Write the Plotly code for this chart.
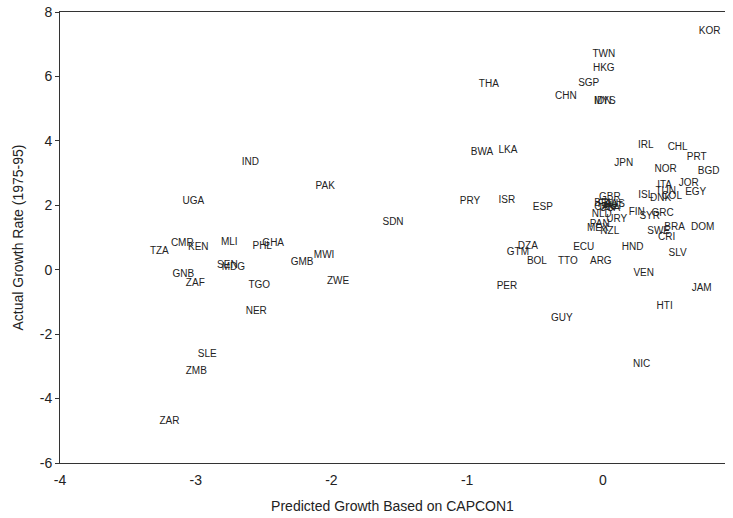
import plotly.graph_objects as go

countries = ["KOR","TWN","HKG","SGP","CHN","IDN","MYS","THA","IRL","CHL","PRT","BGD","JPN","NOR",
             "JOR","EGY","ITA","TUN","ISL","DNK","COL","GBR","BEL","FRA","AUS","CAN","USA","AUT",
             "NLD","URY","FIN","SYR","GRC","PAN","MEX","NZL","SWE","BRA","CRI","DOM","SLV","HND",
             "ECU","TTO","ARG","VEN","JAM","HTI","NIC","GUY","PER","BOL","DZA","GTM","ESP","ISR",
             "PRY","BWA","LKA","SDN","IND","PAK","UGA","TZA","CMR","KEN","MLI","PHL","GHA","MWI",
             "GMB","SEN","MDG","GNB","ZAF","TGO","NER","ZWE","SLE","ZMB","ZAR"]
predicted = [0.787,0.007,0.007,-0.104,-0.273,0.0,0.014,-0.840,0.316,0.551,0.691,0.779,0.154,0.463,
             0.632,0.684,0.455,0.463,0.316,0.426,0.507,0.051,0.007,0.036,0.087,0.014,0.051,0.073,
             -0.008,0.102,0.250,0.345,0.441,-0.023,-0.037,0.051,0.411,0.529,0.470,0.735,0.551,0.220,
             -0.141,-0.258,-0.015,0.301,0.728,0.455,0.286,-0.302,-0.707,-0.486,-0.553,-0.626,-0.442,-0.707,
             -0.979,-0.891,-0.700,-1.546,-2.598,-2.046,-3.018,-3.268,-3.099,-2.981,-2.753,-2.510,-2.429,-2.054,
             -2.216,-2.767,-2.723,-3.091,-3.003,-2.532,-2.554,-1.951,-2.915,-2.996,-3.194]
actual = [7.39,6.68,6.24,5.78,5.37,5.22,5.22,5.75,3.85,3.79,3.48,3.04,3.29,3.11,
          2.67,2.39,2.61,2.42,2.30,2.20,2.27,2.24,2.05,2.02,2.02,1.93,1.89,1.96,
          1.71,1.55,1.77,1.65,1.74,1.40,1.27,1.18,1.18,1.30,0.99,1.30,0.50,0.68,
          0.68,0.25,0.25,-0.12,-0.59,-1.15,-2.95,-1.52,-0.53,0.25,0.71,0.53,1.93,2.14,
          2.11,3.63,3.70,1.46,3.32,2.58,2.11,0.56,0.81,0.68,0.84,0.71,0.81,0.43,
          0.22,0.12,0.06,-0.16,-0.43,-0.50,-1.30,-0.37,-2.64,-3.17,-4.72]

x_ticks = [-4, -3, -2, -1, 0]
y_ticks = [-6, -4, -2, 0, 2, 4, 6, 8]

fig = go.Figure(go.Scatter(
    x=predicted, y=actual, text=countries, mode="text",
    textposition="middle center",
    textfont=dict(family="Liberation Sans, Arial, sans-serif", size=10, color="#222222"),
    hoverinfo="text",
))

axis_font = dict(family="Liberation Sans, Arial, sans-serif", size=14, color="#222222")
fig.update_layout(
    width=733, height=518,
    margin=dict(l=60, r=8, t=12, b=55),
    paper_bgcolor="white", plot_bgcolor="white",
    showlegend=False,
    font=axis_font,
    xaxis=dict(range=[-4, 0.9], tickvals=x_ticks, ticktext=[str(v) for v in x_ticks],
               showgrid=False, zeroline=False, showline=True, mirror=True,
               linecolor="#333333", linewidth=1, ticks="", automargin=False,
               ticklabelstandoff=4, ticklabeloverflow="allow",
               title=dict(text="Predicted Growth Based on CAPCON1", font=axis_font, standoff=14),
               tickfont=axis_font),
    yaxis=dict(range=[-6, 8], tickvals=y_ticks, ticktext=[str(v) for v in y_ticks],
               showgrid=False, zeroline=False, showline=True, mirror=False,
               linecolor="#333333", linewidth=1, ticks="outside", ticklen=4, tickcolor="#333333",
               automargin=False, ticklabeloverflow="allow",
               title=dict(text="Actual Growth Rate (1975-95)", font=axis_font, standoff=12),
               tickfont=axis_font),
)

fig.write_html("out.html", config={"displayModeBar": False},
               post_script="document.body.style.margin='0';document.body.style.overflow='hidden';")
